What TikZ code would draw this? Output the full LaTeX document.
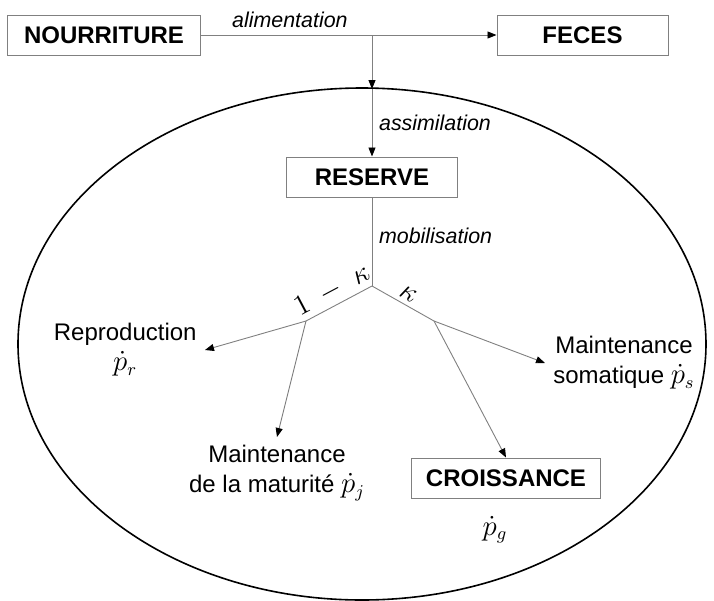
\documentclass[tikz,border=0pt]{standalone}
\usepackage{fontspec}
\setmainfont{Liberation Sans}
\usetikzlibrary{arrows.meta,positioning,calc}
\newcommand{\rate}[1]{{\fontsize{13.5}{15}\selectfont$\dot{p}_{#1}$}}
\begin{document}
\begin{tikzpicture}[
  x=0.5pt, y=-0.5pt,
  box/.style={draw=gray, line width=0.5pt, font=\fontsize{12}{14}\selectfont\bfseries, minimum height=20pt, inner sep=2pt},
  flow/.style={draw=gray, line width=0.45pt},
  tag/.style={font=\fontsize{10.7}{12}\selectfont\itshape},
  sink/.style={align=center, font=\fontsize{12}{15}\selectfont, inner sep=4pt},
  share/.style={font=\fontsize{13.5}{15}\selectfont, sloped, above, inner sep=2pt},
  >={Triangle[length=4.5pt, width=3.5pt, color=black]}
]
\useasboundingbox (0,0) rectangle (714,601);

\draw[line width=0.8pt] (362,344) ellipse [x radius=344, y radius=256];

\node[box, minimum width=96.5pt] (food) at (104,35) {NOURRITURE};
\node[box, minimum width=85.5pt] (feces) at (582.5,35) {FECES};
\node[box, minimum width=85.5pt] (reserve) at (372,177) {RESERVE};
\node[box, minimum width=94.5pt] (growth) at (506,478) {CROISSANCE};

\coordinate (split) at (372,35);
\coordinate (wall) at (372,89);
\coordinate (fork) at (372,286);
\coordinate (lfork) at (306,321);
\coordinate (rfork) at (434,321);

\node[sink, anchor=east] (repro) at (205,350) {Reproduction\\\rate{r}};
\node[sink, anchor=north] (mature) at (277,437) {Maintenance\\de la maturité \rate{j}};
\node[sink, anchor=west] (soma) at (545,363) {Maintenance\\somatique \rate{s}};
\node (growthrate) at (495,530) {\rate{g}};

\draw[flow] (food) -- node[tag, above, pos=0.52] {alimentation} (split);
\draw[flow,->] (split) -- (feces);
\draw[flow,->] (split) -- (wall);
\draw[flow,->] (wall) -- node[tag, right] {assimilation} (reserve);
\draw[flow] (reserve) -- node[tag, right, pos=0.43] {mobilisation} (fork);
\draw[flow] (fork) -- node[share] {$1\;-\;\kappa$} (lfork);
\draw[flow] (fork) -- node[share] {$\kappa$} (rfork);
\draw[flow,->] (lfork) -- (repro.east);
\draw[flow,->] (lfork) -- (mature.north);
\draw[flow,->] (rfork) -- (soma.west);
\draw[flow,->] (rfork) -- (growth.north);

\end{tikzpicture}
\end{document}
